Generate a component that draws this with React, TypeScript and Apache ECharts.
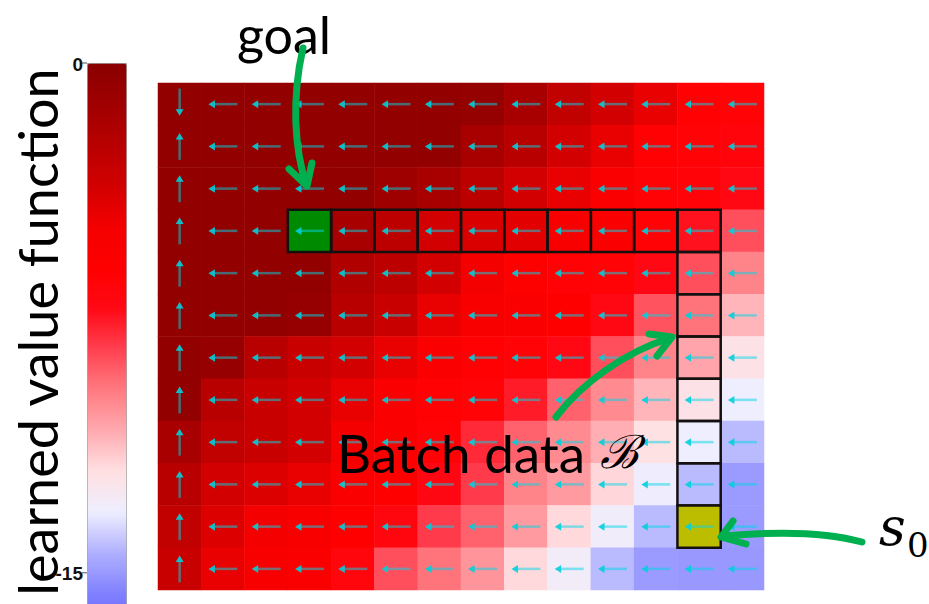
import React, { useEffect, useRef } from "react";
import * as echarts from "echarts";

// ---- data ----
const COLS = ["0", "1", "2", "3", "4", "5", "6", "7", "8", "9", "10", "11", "12", "13"];
const ROWS = ["0", "1", "2", "3", "4", "5", "6", "7", "8", "9", "10", "11"];

// learned value function per cell (row-major, row 0 at the top)
const VALUES: number[][] = [
  [-0.5, -0.5, -0.5, -0.5, -0.5, -0.5, -0.5, -0.6, -1.6, -2.8, -3.6, -4.4, -6.2, -6.4],
  [-0.5, -0.5, -0.5, -0.5, -0.5, -0.5, -0.5, -1.6, -2.4, -3.6, -4.4, -6.2, -6.4, -6.6],
  [-0.5, -0.5, -0.5, -0.5, -0.5, -1.1, -1.6, -2.6, -3.6, -4.4, -5.5, -6.3, -6.5, -7.2],
  [-0.5, -0.5, -0.5, -0.3, -1.6, -2.6, -3.6, -3.9, -4.2, -5.2, -5.6, -6.3, -7.4, -8.7],
  [-0.5, -0.5, -0.5, -0.5, -2.0, -2.6, -3.6, -4.8, -5.8, -6.3, -6.4, -7.2, -8.7, -9.85],
  [-0.5, -0.5, -0.5, -0.7, -2.4, -3.2, -4.4, -5.2, -5.6, -5.9, -7.2, -8.8, -9.45, -11.05],
  [-0.5, -0.7, -2.4, -3.2, -3.6, -4.4, -5.5, -6.2, -6.4, -7.2, -8.7, -9.85, -10.65, -12.2],
  [-0.5, -2.4, -3.2, -3.6, -4.4, -5.5, -6.2, -6.4, -7.6, -9.1, -10.0, -11.05, -12.2, -13.2],
  [-1.6, -2.8, -3.2, -3.6, -4.8, -5.5, -6.3, -7.9, -9.1, -10.0, -10.9, -12.05, -13.2, -14.2],
  [-2.4, -3.6, -4.0, -4.4, -5.5, -5.9, -7.1, -8.3, -9.85, -10.4, -11.8, -13.1, -14.2, -14.95],
  [-2.8, -4.0, -4.8, -5.2, -5.9, -6.8, -8.3, -9.1, -10.4, -11.85, -13.0, -14.2, -14.9, -14.95],
  [-3.2, -4.4, -5.2, -5.5, -6.7, -8.7, -9.45, -10.25, -11.85, -12.9, -14.2, -14.95, -15.0, -15.0],
];

// greedy policy per cell: L = left, U = up, D = down
const POLICY: string[] = [
  "DLLLLLLLLLLLLL",
  "ULLLLLLLLLLLLL",
  "ULLLLLLLLLLLLL",
  "ULLLLLLLLLLLLL",
  "ULLLLLLLLLLLLL",
  "ULLLLLLLLLLLLL",
  "ULLLLLLLLLLLLL",
  "ULLLLLLLLLLLLL",
  "ULLLLLLLLLLLLL",
  "ULLLLLLLLLLLLL",
  "ULLLLLLLLLLLLL",
  "ULLLLLLLLLLLLL",
];

const GOAL: [number, number] = [3, 3];
const START: [number, number] = [12, 10];
// batch data cells (col, row) between goal and start
const BATCH: [number, number][] = [
  [4, 3], [5, 3], [6, 3], [7, 3], [8, 3], [9, 3], [10, 3], [11, 3], [12, 3],
  [12, 4], [12, 5], [12, 6], [12, 7], [12, 8], [12, 9],
];

const COLORBAR_TICKS = ["0", "-15"];
const VMIN = -16.8;
const VMAX = 0;
// colour stops, evenly spread from VMIN (first) to VMAX (last), step 1.2
const CMAP = [
  "#6060ff", "#8080ff", "#b0b0ff", "#eeeeff", "#ffe0e2", "#ffaab0", "#ff7a80", "#ff4050",
  "#ff0814", "#ff0000", "#f40000", "#d20000", "#b80000", "#a00000", "#8a0000",
];

// ---- layout ----
const GRID = { left: 158, top: 83, width: 606, height: 507 };
const CB = { left: 87, top: 63, width: 39, height: 571 };
const GREEN = "#00b050";
const TOP_Z = 100;

export default function App() {
  const ref = useRef<HTMLDivElement>(null);

  useEffect(() => {
    if (!ref.current) return;
    const chart = echarts.init(ref.current, null, { renderer: "svg" });

    const heat: number[][] = [];
    VALUES.forEach((row, r) => row.forEach((v, c) => heat.push([c, r, v])));

    const arrows: number[][] = [];
    POLICY.forEach((row, r) => row.split("").forEach((ch, c) => arrows.push([c, r, "LUD".indexOf(ch)])));

    const boxes: number[][] = [
      [GOAL[0], GOAL[1], 1],
      ...BATCH.map((b) => [b[0], b[1], 0]),
      [START[0], START[1], 2],
    ];

    const cbY = (v: number) => CB.top + ((VMAX - v) / (VMAX - VMIN)) * CB.height;

    const tickGraphics: any[] = [];
    COLORBAR_TICKS.forEach((t) => {
      const y = cbY(Number(t));
      tickGraphics.push({
        type: "line",
        z: TOP_Z,
        shape: { x1: CB.left - 5, y1: y, x2: CB.left, y2: y },
        style: { stroke: "#555", lineWidth: 1 },
      });
      tickGraphics.push({
        type: "text",
        z: TOP_Z,
        x: CB.left - 4,
        y: y + 1,
        style: {
          text: t,
          font: "bold 19px 'Liberation Sans'",
          fill: "#111",
          textAlign: "right",
          textVerticalAlign: "middle",
        },
      });
    });

    const greenLine = { stroke: GREEN, lineWidth: 7, fill: "none", lineCap: "round", lineJoin: "round" };

    chart.setOption({
      animation: false,
      backgroundColor: "#ffffff",
      grid: { left: GRID.left, top: GRID.top, width: GRID.width, height: GRID.height },
      xAxis: { type: "category", data: COLS, show: false },
      yAxis: { type: "category", data: ROWS, show: false, inverse: true },
      visualMap: {
        type: "continuous",
        seriesIndex: 0,
        min: VMIN,
        max: VMAX,
        orient: "vertical",
        left: CB.left,
        top: CB.top,
        itemWidth: CB.width,
        itemHeight: CB.height,
        calculable: false,
        padding: 0,
        borderWidth: 1,
        borderColor: "#999",
        inRange: { color: CMAP },
      },
      series: [
        {
          type: "heatmap",
          data: heat,
          itemStyle: { borderWidth: 0 },
          emphasis: { disabled: true },
        },
        {
          type: "custom",
          data: boxes,
          renderItem: (params: any, api: any) => {
            const c = api.coord([api.value(0), api.value(1)]);
            const s = api.size([1, 1]);
            const kind = api.value(2);
            const fill = kind === 1 ? "#008a00" : kind === 2 ? "#bdbd00" : "none";
            return {
              type: "rect",
              shape: { x: c[0] - s[0] / 2, y: c[1] - s[1] / 2, width: s[0], height: s[1] },
              style: { fill, stroke: "#141010", lineWidth: 2.5 },
            };
          },
        },
        {
          type: "custom",
          data: arrows,
          renderItem: (params: any, api: any) => {
            const p = api.coord([api.value(0), api.value(1)]);
            const cx = p[0];
            const cy = p[1];
            const d = api.value(2);
            const half = 14.5;
            const headL = 6.5;
            const headW = 4;
            let tip: number[], tail: number[], p1: number[], p2: number[], shaftStart: number[];
            if (d === 0) {
              tip = [cx - half, cy];
              tail = [cx + half, cy];
              p1 = [tip[0] + headL, cy - headW];
              p2 = [tip[0] + headL, cy + headW];
              shaftStart = [tip[0] + headL - 1, cy];
            } else if (d === 1) {
              tip = [cx, cy - 13.5];
              tail = [cx, cy + 13.5];
              p1 = [cx - headW, tip[1] + headL];
              p2 = [cx + headW, tip[1] + headL];
              shaftStart = [cx, tip[1] + headL - 1];
            } else {
              tip = [cx, cy + 11.5];
              tail = [cx, cy - 15.5];
              p1 = [cx - headW, tip[1] - headL];
              p2 = [cx + headW, tip[1] - headL];
              shaftStart = [cx, tip[1] - headL + 1];
            }
            return {
              type: "group",
              children: [
                {
                  type: "line",
                  shape: { x1: shaftStart[0], y1: shaftStart[1], x2: tail[0], y2: tail[1] },
                  style: { stroke: "#00d8e8", lineWidth: 2.5, opacity: 0.5 },
                },
                {
                  type: "polygon",
                  shape: { points: [tip, p1, p2] },
                  style: { fill: "#00d0dc", opacity: 0.9 },
                },
              ],
            };
          },
        },
      ],
      graphic: [
        ...tickGraphics,
        {
          type: "text",
          z: TOP_Z,
          x: 37,
          y: 332,
          rotation: Math.PI / 2,
          style: {
            text: "learned value function",
            fontFamily: "Lato",
            fontSize: 54,
            fill: "#000",
            textAlign: "center",
            textVerticalAlign: "middle",
          },
        },
        {
          type: "text",
          z: TOP_Z,
          x: 284,
          y: 34,
          style: {
            text: "goal",
            fontFamily: "Lato",
            fontSize: 52,
            fill: "#000",
            textAlign: "center",
            textVerticalAlign: "middle",
          },
        },
        {
          type: "text",
          z: TOP_Z,
          x: 337,
          y: 452,
          style: {
            text: "Batch data",
            fontFamily: "Lato",
            fontSize: 53,
            fill: "#000",
            textAlign: "left",
            textVerticalAlign: "middle",
          },
        },
        {
          type: "text",
          z: TOP_Z,
          x: 600,
          y: 452,
          style: {
            text: "ℬ",
            fontFamily: "DejaVu Serif",
            fontStyle: "italic",
            fontSize: 46,
            fill: "#000",
            textAlign: "left",
            textVerticalAlign: "middle",
          },
        },
        {
          type: "text",
          z: TOP_Z,
          x: 879,
          y: 527,
          style: {
            text: "s",
            fontFamily: "DejaVu Serif",
            fontStyle: "italic",
            fontSize: 52,
            fill: "#000",
            textAlign: "left",
            textVerticalAlign: "middle",
          },
        },
        {
          type: "text",
          z: TOP_Z,
          x: 907,
          y: 545,
          style: {
            text: "0",
            fontFamily: "DejaVu Serif",
            fontSize: 34,
            fill: "#000",
            textAlign: "left",
            textVerticalAlign: "middle",
          },
        },
        // green annotation arrows
        {
          type: "bezierCurve",
          z: TOP_Z,
          shape: { x1: 303, y1: 48, cpx1: 291, cpy1: 100, cpx2: 295, cpy2: 150, x2: 306, y2: 184 },
          style: greenLine,
        },
        {
          type: "polyline",
          z: TOP_Z,
          shape: { points: [[289, 169], [307, 186], [312, 163]] },
          style: greenLine,
        },
        {
          type: "bezierCurve",
          z: TOP_Z,
          shape: { x1: 556, y1: 417, cpx1: 582, cpy1: 383, cpx2: 625, cpy2: 352, x2: 670, y2: 338 },
          style: greenLine,
        },
        {
          type: "polyline",
          z: TOP_Z,
          shape: { points: [[649, 334], [672, 337], [657, 356]] },
          style: greenLine,
        },
        {
          type: "bezierCurve",
          z: TOP_Z,
          shape: { x1: 862, y1: 542, cpx1: 830, cpy1: 533, cpx2: 780, cpy2: 531, x2: 724, y2: 536 },
          style: greenLine,
        },
        {
          type: "polyline",
          z: TOP_Z,
          shape: { points: [[733, 521], [721, 537], [746, 544]] },
          style: greenLine,
        },
      ],
    });

    return () => chart.dispose();
  }, []);

  return <div ref={ref} style={{ position: "fixed", left: 0, top: 0, width: 929, height: 604 }} />;
}
